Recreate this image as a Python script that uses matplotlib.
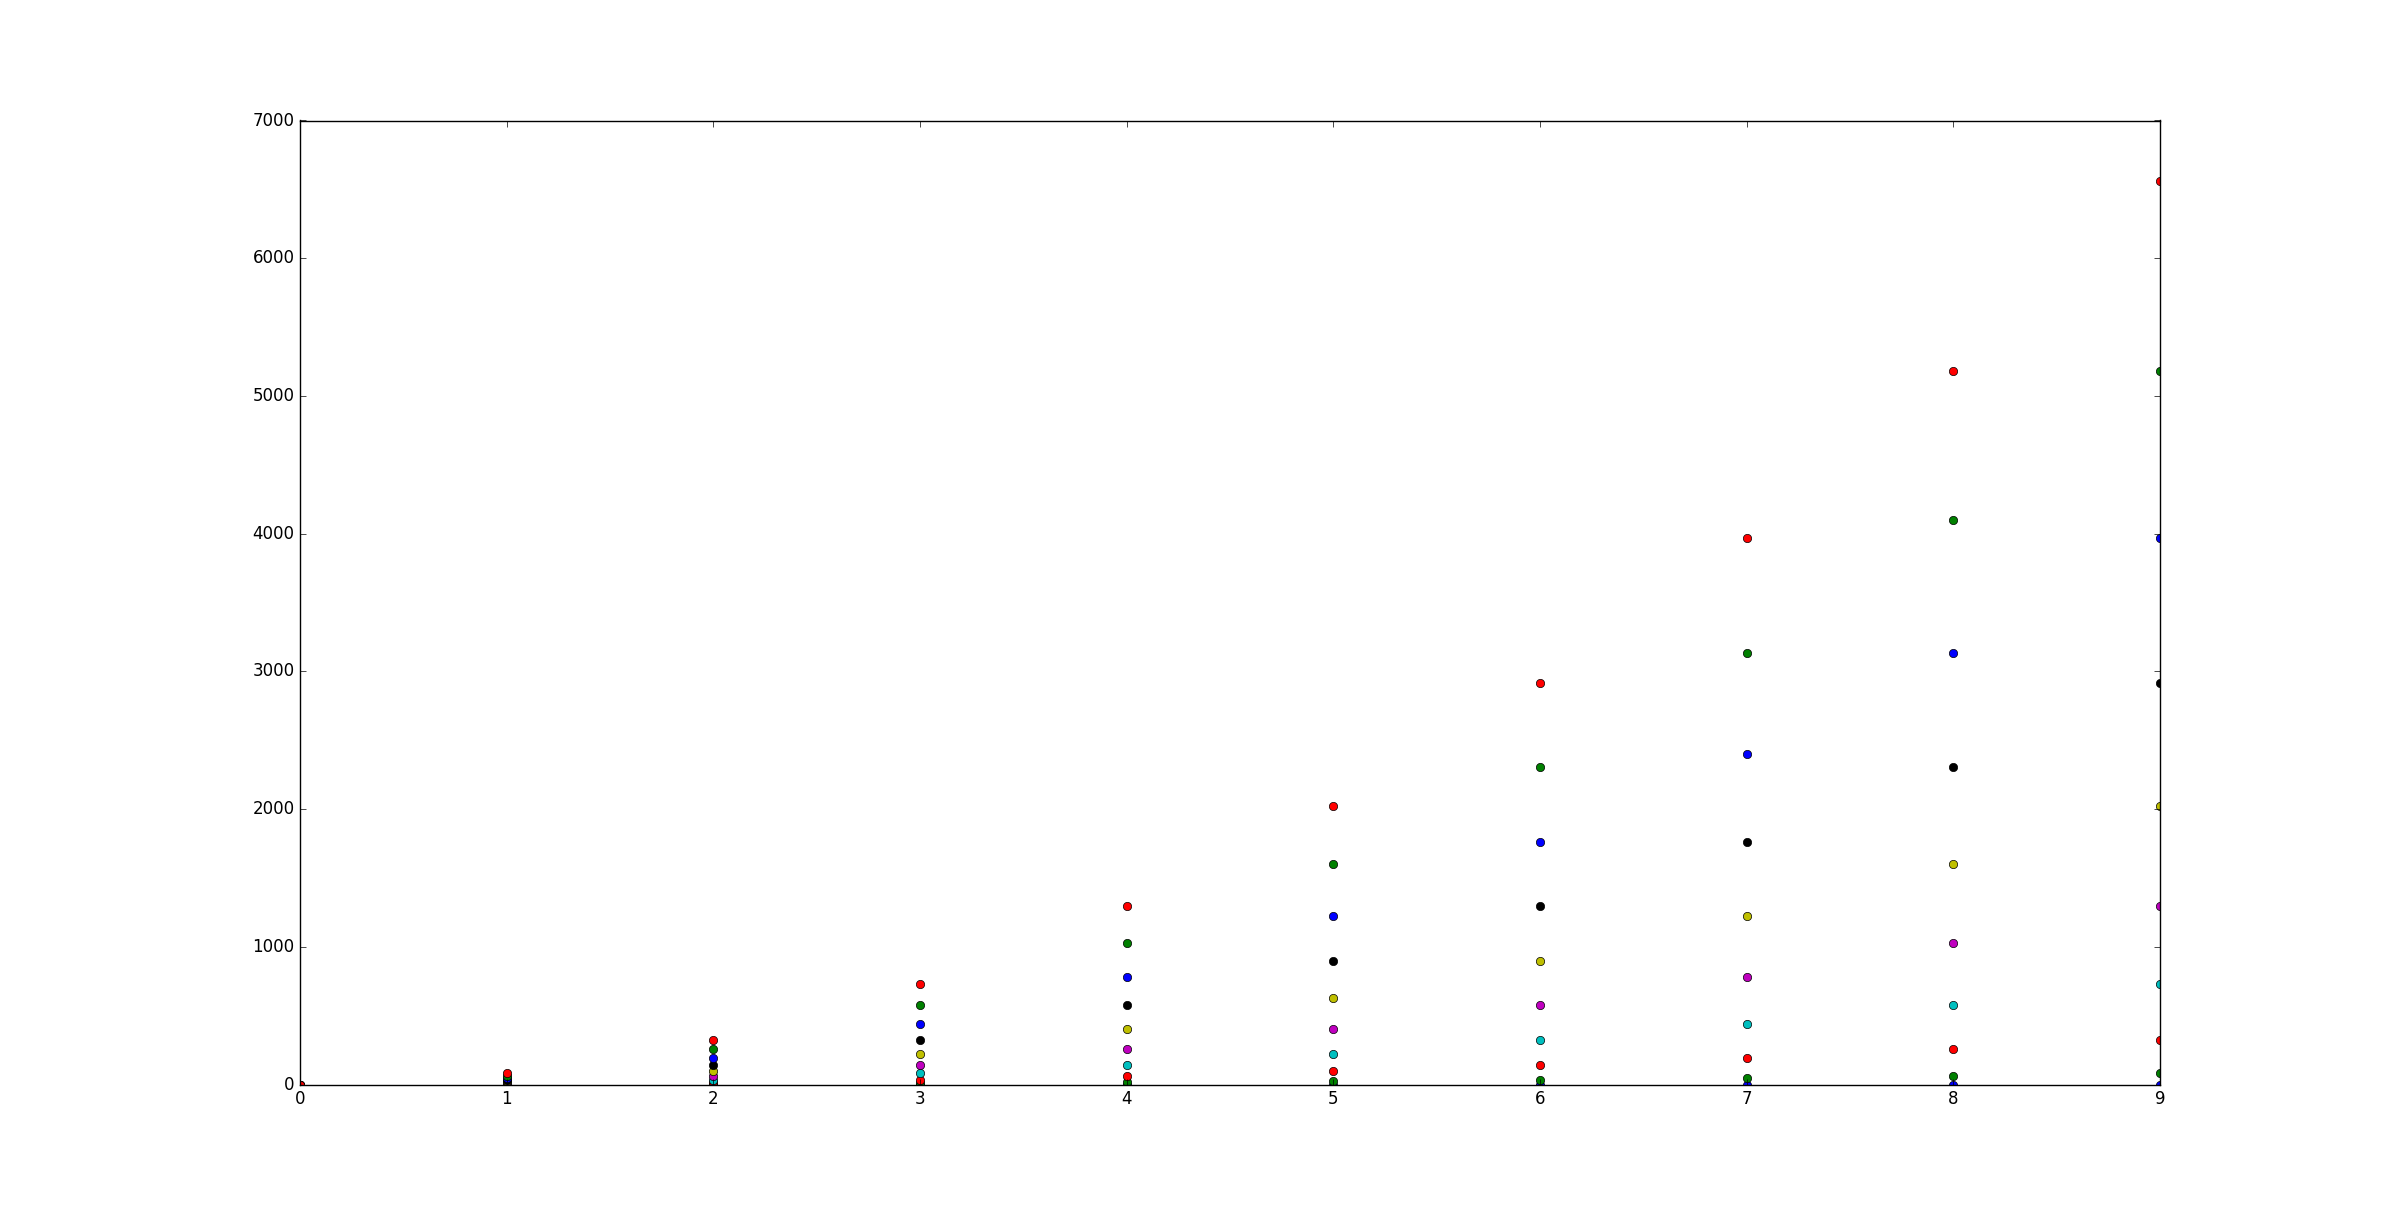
import matplotlib
matplotlib.use("Agg")
import matplotlib.pyplot as plt

plt.style.use('classic')

x_values = [0, 1, 2, 3, 4, 5, 6, 7, 8, 9]
series_values = [
    [0, 0, 0, 0, 0, 0, 0, 0, 0, 0],
    [0, 1, 4, 9, 16, 25, 36, 49, 64, 81],
    [0, 4, 16, 36, 64, 100, 144, 196, 256, 324],
    [0, 9, 36, 81, 144, 225, 324, 441, 576, 729],
    [0, 16, 64, 144, 256, 400, 576, 784, 1024, 1296],
    [0, 25, 100, 225, 400, 625, 900, 1225, 1600, 2025],
    [0, 36, 144, 324, 576, 900, 1296, 1764, 2304, 2916],
    [0, 49, 196, 441, 784, 1225, 1764, 2401, 3136, 3969],
    [0, 64, 256, 576, 1024, 1600, 2304, 3136, 4096, 5184],
    [0, 81, 324, 729, 1296, 2025, 2916, 3969, 5184, 6561],
]

fig = plt.figure(figsize=(24, 12.05), dpi=100)
ax = fig.add_subplot(111)
for vals in series_values:
    ax.plot(x_values, vals, 'o')
ax.set_xlim(0, 9)
ax.set_ylim(0, 7000)
fig.savefig('out.png', dpi=100)
